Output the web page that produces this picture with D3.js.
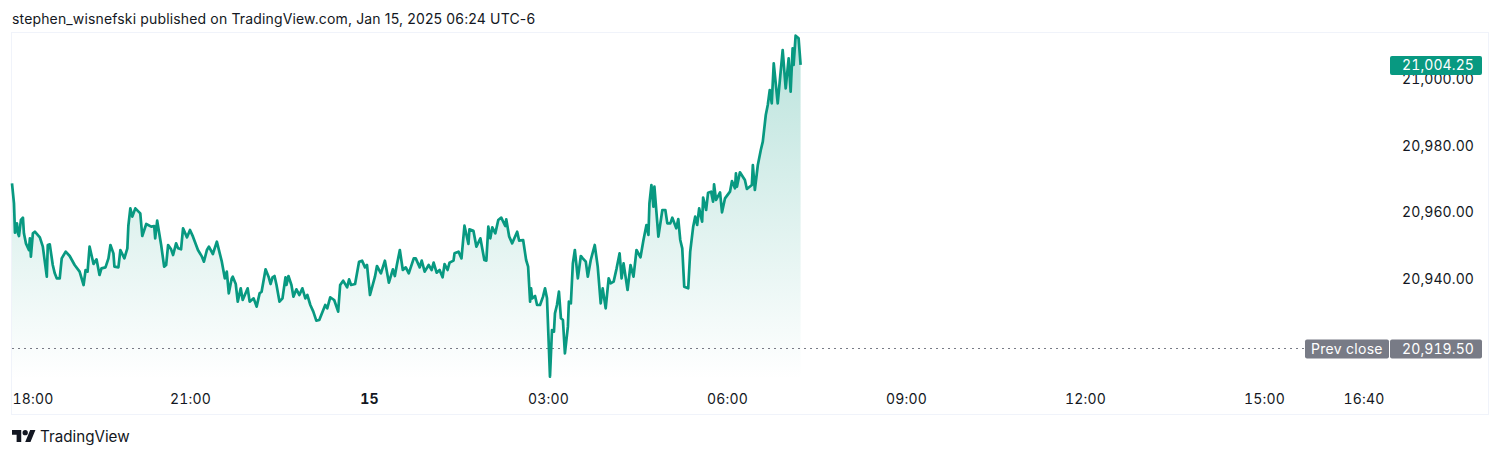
<!DOCTYPE html>
<html lang="en">
<head>
<meta charset="UTF-8">
<title>TradingView chart</title>
<script src="https://d3js.org/d3.v7.min.js"></script>
<style>
  html, body { margin: 0; padding: 0; background: #fff; overflow: hidden; }
  text { font-family: Inter, "Noto Sans", sans-serif; }
  .nums text, text.nums { font-variant-numeric: tabular-nums; }
</style>
</head>
<body>
<div id="chart"></div>
<script>
// minutes after the 18:00 session open
const minutes = [1,3,4,6,7,8,10,12,13,15,18,19,20,22,24,29,32,36,37,39,42,44,46,49,51,55,59,64,69,73,75,77,79,83,86,89,91,95,98,100,103,104,108,110,114,117,118,120,122,125,130,132,136,141,144,145,147,151,154,156,158,161,163,166,168,171,173,177,180,183,188,192,194,197,199,203,207,212,215,217,219,222,223,226,228,231,233,238,240,244,247,250,252,256,
  259,261,263,265,267,270,273,276,277,279,282,284,287,290,293,296,298,301,304,307,310,316,318,321,325,329,331,334,338,340,342,346,350,353,356,358,361,366,368,372,376,380,384,386,388,391,394,397,400,405,407,411,413,416,420,423,425,428,431,434,436,439,441,445,446,450,453,456,460,461,465,468,472,476,478,480,482,484,487,490,493,497,498,501,504,509,511,515,518,
  520,522,523,524,527,529,532,535,537,539,542,544,546,547,549,551,553,555,557,560,561,563,565,567,570,573,575,578,580,583,587,590,593,595,598,601,603,606,609,612,614,616,620,623,626,629,633,636,639,641,642,644,646,647,651,655,658,660,
  663,665,669,671,673,675,677,681,683,686,688,690,692,695,696,699,701,704,706,707,709,713,715,718,723,725,728,729,730,733,738,740,745,746,748,751,754,756,759,761,763,765,767,771,776,779,782,784,786,787,789,792,794];

const prices = [20968.7,20962.7,20953.9,20956.7,20953.7,20952.9,20957.7,20958.4,20953.7,20950.7,20948.7,20952.2,20946.7,20953.7,20954.2,20952.5,20949.7,20940.7,20950.2,20950.4,20944.2,20941.7,20940.2,20940.2,20946.2,20948.2,20946.9,20944.2,20942.2,20938.2,20942.7,20942.2,20949.7,20944.5,20945.9,20941.2,20943.2,20943.5,20946.2,20950.2,20947.7,20943.7,20943.5,20948.7,20946.2,20949.2,20955.9,20961.2,20958.7,20961.2,20959.7,20952.9,20956.5,20955.7,20955.9,20952.2,20957.5,20950.2,20943.7,20944.2,20950.2,20948.9,20947.2,20950.7,20949.2,20948.9,20955.2,20952.5,20954.7,20952.7,20948.7,20946.7,20945.2,20948.7,20949.7,20947.5,20951.2,20945.2,20940.2,20942.2,20935.7,20940.2,20940.7,20938.5,20933.2,20937.2,20933.7,20937.2,20933.2,20934.2,20931.7,20935.7,20936.2,20942.9,
  20940.7,20938.5,20940.5,20940.9,20938.2,20933.2,20934.2,20940.5,20938.2,20940.9,20938.2,20934.7,20936.9,20935.2,20937.2,20934.2,20935.2,20932.2,20930.2,20927.5,20927.7,20932.2,20931.2,20934.5,20933.7,20930.2,20938.2,20939.5,20937.5,20939.9,20938.2,20938.5,20945.2,20945.5,20943.5,20944.2,20935.2,20940.7,20943.9,20941.7,20945.5,20938.9,20942.9,20940.9,20944.2,20948.7,20942.7,20943.5,20941.7,20946.2,20946.2,20943.5,20945.5,20942.2,20944.2,20942.7,20944.9,20941.9,20942.7,20940.5,20944.5,20942.7,20944.9,20945.5,20947.7,20948.2,20946.2,20956,20950.5,20954.9,20954.5,20949.7,20952.2,20945.7,20945.5,20955.7,20952.2,20955.5,20953.7,20957.7,20958.4,20955.9,20957.9,20952.7,20950.7,20954.2,20951.5,20951.7,20945.7,
  20943.7,20933.2,20937.2,20934.2,20934.9,20932.2,20932.2,20934.7,20937.2,20934.2,20910.7,20924.7,20924.2,20929.7,20932.2,20936.2,20928.2,20927.7,20917.7,20925.7,20933.2,20932.7,20944.7,20948.7,20940.2,20946.9,20946.2,20945.2,20940.7,20945.7,20950.2,20943.7,20932.7,20937.2,20931.2,20940.2,20938.7,20939.2,20943.2,20947.7,20940.2,20944.7,20936.7,20944.2,20940.7,20948.7,20946.5,20951.7,20956.2,20953.2,20962.7,20968.2,20961.7,20967.7,20952.7,20960.7,20960.7,20956.7,
  20956.7,20958.4,20955.2,20958,20951.7,20949.2,20937.7,20937.2,20948.2,20955.7,20958.7,20956.2,20961.2,20957.2,20964.4,20960.7,20965.9,20966.2,20963.2,20968.4,20963.7,20966,20960,20964.2,20966.2,20969.4,20967.2,20971.7,20967.7,20972,20969.7,20967,20968.2,20974.2,20966.7,20974.2,20978.7,20981.2,20989.2,20992.2,20996.7,20992.7,21004.7,20992.7,21008.7,20997.2,21006.2,20996.2,21009.2,21004.2,21013,21012.2,21004.25];

const priceTicks = [21000, 20980, 20960, 20940];
const lastPrice = 21004.25;
const prevClose = 20919.5;
const timeTicks = [0, 180, 360, 540, 720, 900, 1080, 1260, 1360];
const timeLabels = ["18:00", "21:00", "15", "03:00", "06:00", "09:00", "12:00", "15:00", "16:40"];

const width = 1500, height = 457;
const green = "#089981", textColor = "#131722";

const svg = d3.select("#chart").append("svg")
  .attr("width", width).attr("height", height)
  .style("display", "block");

const x = d3.scaleLinear().domain([0, 1360]).range([11, 11 + 1360 * 179 / 180]);
const y = d3.scaleLinear().domain([20940, 21000]).range([279, 79]);

const points = minutes.map((m, i) => [m, prices[i]]);

const defs = svg.append("defs");
const grad = defs.append("linearGradient")
  .attr("id", "areaFill").attr("gradientUnits", "userSpaceOnUse")
  .attr("x1", 0).attr("x2", 0).attr("y1", y(d3.max(prices))).attr("y2", 379);
grad.append("stop").attr("offset", 0).attr("stop-color", green).attr("stop-opacity", 0.28);
grad.append("stop").attr("offset", 1).attr("stop-color", green).attr("stop-opacity", 0);

// pane border
svg.append("rect")
  .attr("x", 11.5).attr("y", 32.5).attr("width", 1477).attr("height", 382)
  .attr("fill", "none").attr("stroke", "#f0f3fa");

svg.append("path")
  .datum(points)
  .attr("fill", "url(#areaFill)")
  .attr("d", d3.area().x(d => x(d[0])).y0(379).y1(d => y(d[1])));

// prev close dotted line
const prevY = Math.round(y(prevClose)) + 1.5;
svg.append("line")
  .attr("x1", 12).attr("x2", 1305)
  .attr("y1", prevY).attr("y2", prevY)
  .attr("stroke", "#787b86").attr("stroke-dasharray", "2 4");

svg.append("path")
  .datum(points)
  .attr("fill", "none")
  .attr("stroke", green)
  .attr("stroke-width", 2.7)
  .attr("stroke-linejoin", "round")
  .attr("d", d3.line().x(d => x(d[0])).y(d => y(d[1])));

// axes
const xAxis = svg.append("g")
  .attr("class", "nums")
  .attr("transform", "translate(0,404)")
  .call(d3.axisBottom(x).tickValues(timeTicks).tickSize(0).tickPadding(0)
    .tickFormat((d, i) => timeLabels[i]));
xAxis.select(".domain").remove();
xAxis.selectAll("text")
  .attr("y", 0).attr("dy", 0)
  .attr("font-size", 14).attr("fill", textColor)
  .attr("font-family", "Inter")
  .attr("letter-spacing", 0.2)
  .attr("font-weight", d => d === 360 ? 700 : 400);
// the first label is pushed inside the pane
xAxis.selectAll("text").filter(d => d === 0)
  .attr("text-anchor", "start").attr("x", 1);

const yAxis = svg.append("g")
  .attr("class", "nums")
  .attr("transform", "translate(1474,0)")
  .call(d3.axisLeft(y).tickValues(priceTicks).tickSize(0).tickPadding(0)
    .tickFormat(d3.format(",.2f")));
yAxis.select(".domain").remove();
yAxis.selectAll("text")
  .attr("font-size", 14).attr("fill", textColor)
  .attr("font-family", "Inter")
  .attr("letter-spacing", 0.1);

// price tags
const fmt = d3.format(",.2f");
function tag(x0, w, cy, color, label, textX, anchor, spacing) {
  svg.append("rect")
    .attr("x", x0).attr("y", cy - 9.5).attr("width", w).attr("height", 19)
    .attr("rx", 2).attr("fill", color);
  svg.append("text")
    .attr("class", "nums")
    .attr("x", textX).attr("y", cy + 4.5)
    .attr("text-anchor", anchor)
    .attr("font-size", 14).attr("fill", "#fff")
    .attr("letter-spacing", spacing)
    .text(label);
}
tag(1390, 92, 65.5, green, fmt(lastPrice), 1474, "end", 0.1);
tag(1305, 84, 349, "#787b86", "Prev close", 1311, "start", 0.3);
tag(1390, 92, 349, "#787b86", fmt(prevClose), 1474, "end", 0.1);

// header
svg.append("text")
  .attr("x", 12).attr("y", 24)
  .attr("font-size", 14).attr("fill", textColor)
  .attr("letter-spacing", 0.15)
  .text("stephen_wisnefski published on TradingView.com, Jan 15, 2025 06:24 UTC-6");

// footer logo
const logo = svg.append("g").attr("transform", "translate(12,427.4) scale(0.66)").attr("fill", textColor);
logo.append("path").attr("d", "M14 22H7V11H0V4h14v18zM28 22h-8l7.5-18h8L28 22z");
logo.append("circle").attr("cx", 20).attr("cy", 8).attr("r", 4);
svg.append("text")
  .attr("x", 40).attr("y", 442)
  .attr("font-size", 15.2).attr("fill", textColor)
  .text("TradingView");
</script>
</body>
</html>
